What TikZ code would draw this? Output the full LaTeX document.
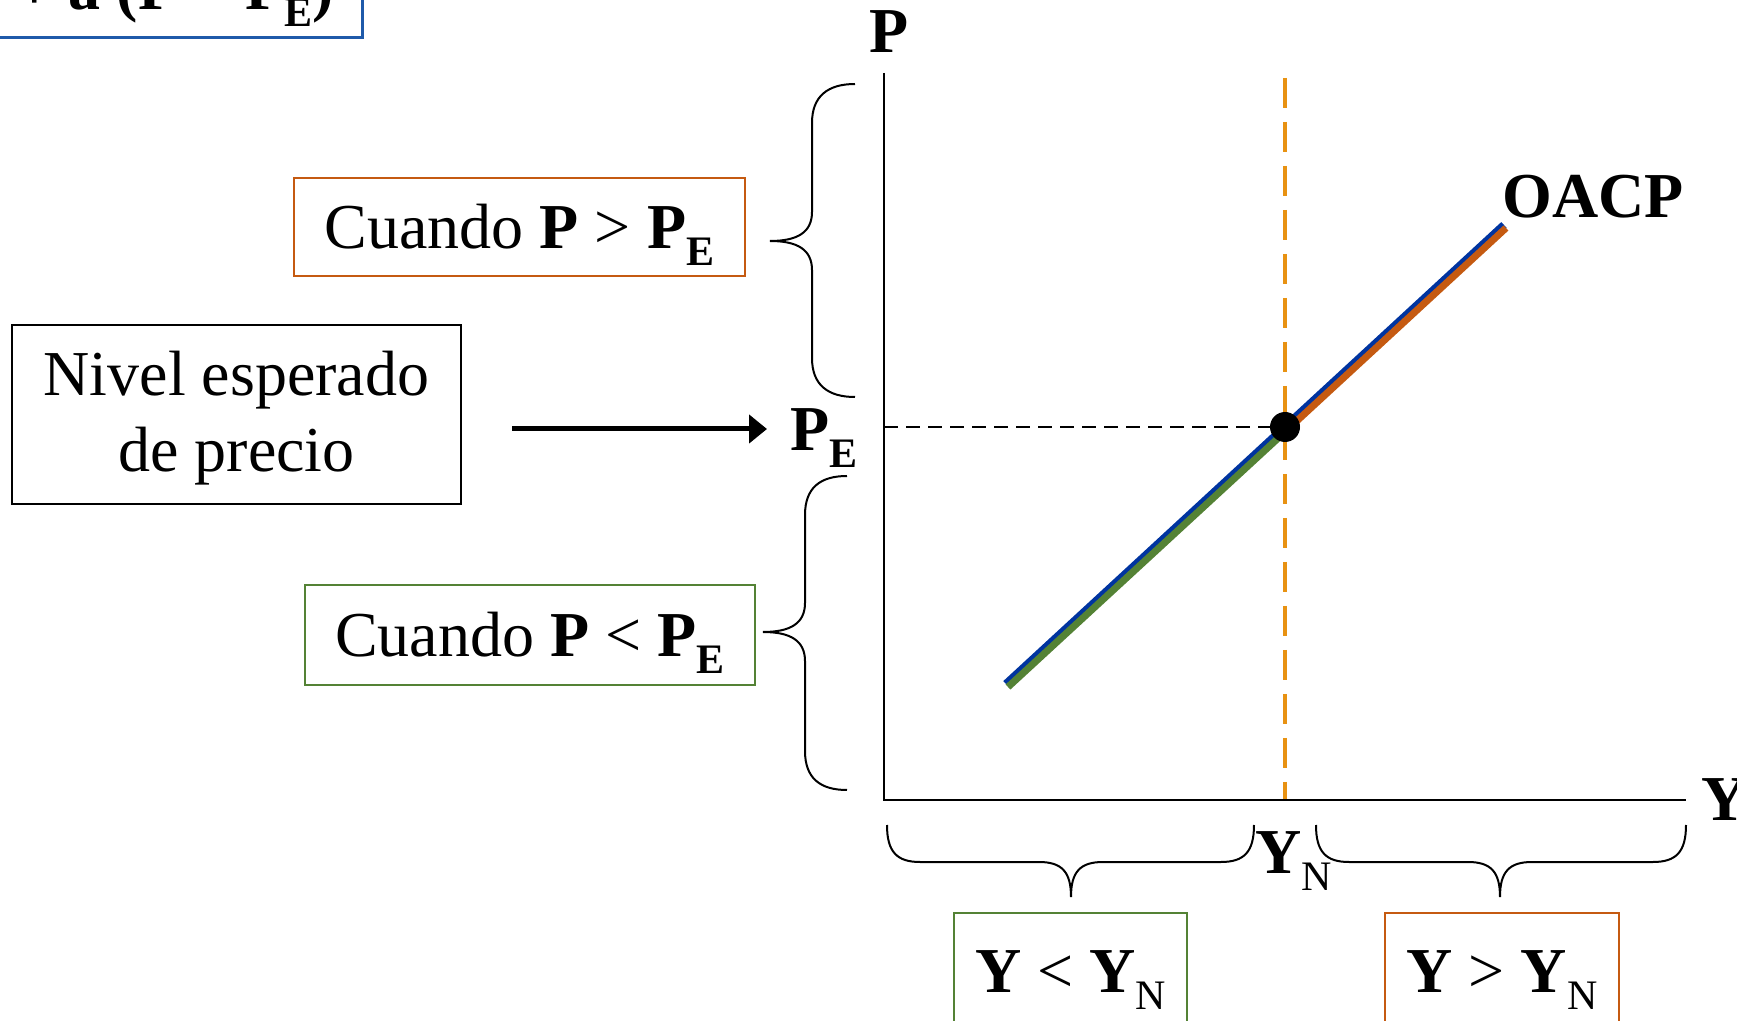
\documentclass[tikz,border=0pt]{standalone}
\usepackage{fontspec}
\setmainfont{Liberation Serif}
\usetikzlibrary{arrows.meta}
\definecolor{oblue}{RGB}{0,52,160}
\definecolor{ogreen}{RGB}{84,130,53}
\definecolor{oorange}{RGB}{197,90,17}
\definecolor{dorange}{RGB}{232,146,18}
\definecolor{bblue}{RGB}{31,90,170}
\newcommand\mysub[1]{\raisebox{-8.5pt}{\fontsize{21pt}{21pt}\selectfont #1}}
\begin{document}
\begin{tikzpicture}[x=0.5pt,y=-0.5pt,
  lbl/.style={font=\fontsize{32pt}{38pt}\selectfont, inner sep=0pt},
  tbox/.style={draw, line width=1pt, font=\fontsize{32pt}{38pt}\selectfont, inner sep=0pt, text height=22pt, text depth=0pt},
  brc/.style={line width=1pt},
  axis/.style={line width=1.2pt},
  arrowline/.style={line width=2.5pt, -{Triangle[length=9pt,width=14pt]}},
  dot/.style={circle, fill=black, inner sep=0pt, minimum size=15pt}
]
\useasboundingbox (0,0) rectangle (1737,1021);

% partially visible equation box
\node[draw=bblue, line width=1.4pt, inner sep=0pt, minimum width=200pt, minimum height=60pt, anchor=south east] (eqbox) at (364,39) {};
\node[lbl, anchor=base west] (eqtxt) at (16,10) {\textbf{+ a (P − P\mysub{E})}};

% left boxes
\node[tbox, draw=oorange, minimum width=225.5pt, minimum height=49pt] (bhigh) at (519.5,227) {Cuando \textbf{P} > \textbf{P\mysub{E}}};
\node[draw, line width=1pt, minimum width=224.5pt, minimum height=89.5pt, align=center, font=\fontsize{32pt}{38pt}\selectfont, inner sep=0pt] (nivel) at (236.5,414.5) {\rule{0pt}{25.5pt}Nivel esperado\\de precio};
\node[tbox, draw=ogreen, minimum width=225pt, minimum height=50pt] (blow) at (530,635) {Cuando \textbf{P} < \textbf{P\mysub{E}}};

% bottom boxes
\node[tbox, draw=ogreen, minimum width=116.5pt, minimum height=57pt] (ylow) at (1070.5,970) {\textbf{Y} < \textbf{Y}\mysub{N}};
\node[tbox, draw=oorange, minimum width=117pt, minimum height=57pt] (yhigh) at (1502,970) {\textbf{Y} > \textbf{Y}\mysub{N}};

% labels
\node[lbl, anchor=base west] (plab) at (869,53) {\textbf{P}};
\node[lbl, anchor=base west] (ylab) at (1701,820) {\textbf{Y}};
\node[lbl, anchor=base west] (pe) at (790,451) {\textbf{P\mysub{E}}};
\node[lbl, anchor=base west] (yn) at (1255,873) {\textbf{Y}\mysub{N}};
\node[lbl, anchor=base west] (oacp) at (1502,218) {\textbf{OACP}};

% coordinates
\coordinate (origin) at (884,800);
\coordinate (ytop) at (884,73);
\coordinate (xend) at (1686,800);
\coordinate (vtop) at (1285,78);
\coordinate (arrS) at (512,429);
\coordinate (arrE) at (767,429);
\coordinate (lA) at (1006,684);
\coordinate (lB) at (1504,225);
\coordinate (gA) at (1008,687);
\coordinate (gB) at (1287,430);
\coordinate (oB) at (1506,228);

% dashed guides
\draw[dorange, line width=2pt, dash pattern=on 15pt off 7pt] (vtop) -- (vtop |- origin);
\draw[line width=1pt, dash pattern=on 7pt off 4pt] (origin |- 1285,427) -- (1285,427);

% axes
\draw[axis] (ytop) -- (origin) -- (xend);

% OACP line
\draw[oblue, line width=4pt] (lA) -- (lB);
\draw[ogreen, line width=3.5pt] (gA) -- (gB);
\draw[oorange, line width=3.5pt] (gB) -- (oB);
\node[dot] (eq) at (1285,427) {};

% arrow
\draw[arrowline] (arrS) -- (arrE);

% braces
\draw[brc] (855,84) .. controls (828,84) and (812,96) .. (812,123) -- (812,212) .. controls (812,232) and (798,241) .. (770,241) .. controls (798,241) and (812,250) .. (812,270) -- (812,358) .. controls (812,385) and (828,397) .. (855,397);
\draw[brc] (847,476) .. controls (820,476) and (805,488) .. (805,515) -- (805,603) .. controls (805,623) and (791,632) .. (763,632) .. controls (791,632) and (805,641) .. (805,661) -- (805,751) .. controls (805,778) and (820,790) .. (847,790);
\draw[brc] (887,825) .. controls (887,852) and (897,862) .. (920,862) -- (1039,862) .. controls (1062,862) and (1071,872) .. (1071,897) .. controls (1071,872) and (1080,862) .. (1103,862) -- (1221,862) .. controls (1244,862) and (1254,852) .. (1254,825);
\draw[brc] (1316,825) .. controls (1316,852) and (1326,862) .. (1349,862) -- (1468,862) .. controls (1491,862) and (1500,872) .. (1500,897) .. controls (1500,872) and (1509,862) .. (1532,862) -- (1653,862) .. controls (1676,862) and (1686,852) .. (1686,825);
\end{tikzpicture}
\end{document}
